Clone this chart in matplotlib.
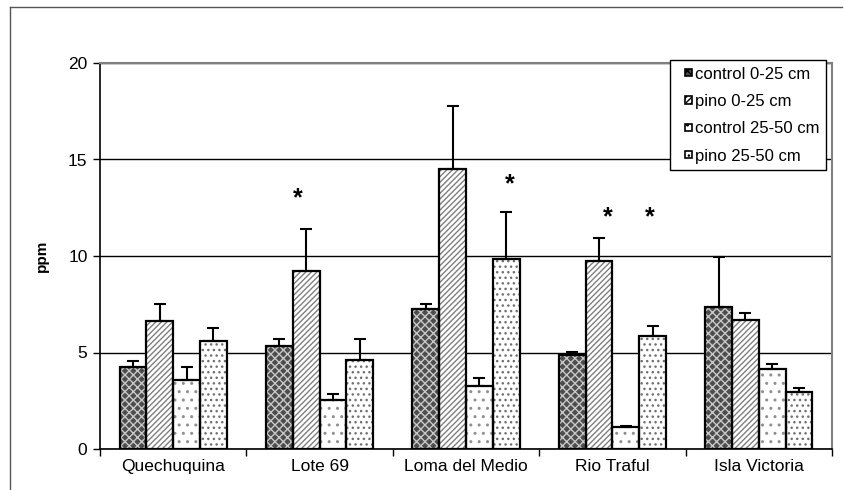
import numpy as np
import matplotlib
matplotlib.use("Agg")
import matplotlib.pyplot as plt
from matplotlib.patches import Patch, Rectangle
from matplotlib.lines import Line2D
from matplotlib.legend_handler import HandlerPatch

plt.rcParams['font.family'] = ['Liberation Sans', 'DejaVu Sans']

sites = ['Quechuquina', 'Lote 69', 'Loma del Medio', 'Rio Traful', 'Isla Victoria']
series = ['control 0-25 cm', 'pino 0-25 cm', 'control 25-50 cm', 'pino 25-50 cm']

# means (ppm)
control_0_25 = [4.23, 5.35, 7.25, 4.87, 7.37]
pino_0_25 = [6.62, 9.24, 14.5, 9.74, 6.68]
control_25_50 = [3.58, 2.54, 3.28, 1.14, 4.13]
pino_25_50 = [5.58, 4.63, 9.83, 5.85, 2.95]

# upper error (se)
err_control_0_25 = [0.33, 0.33, 0.28, 0.16, 2.56]
err_pino_0_25 = [0.89, 2.16, 3.27, 1.18, 0.35]
err_control_25_50 = [0.65, 0.31, 0.42, 0.03, 0.27]
err_pino_25_50 = [0.67, 1.05, 2.43, 0.52, 0.19]

# significance marks (x in category units, y in ppm)
star_x = [0.85, 2.296, 2.965, 3.252]
star_y = [13.0, 13.7, 12.0, 12.0]

means = [control_0_25, pino_0_25, control_25_50, pino_25_50]
errs = [err_control_0_25, err_pino_0_25, err_control_25_50, err_pino_25_50]
faces = ['#4d4d4d', 'white', 'white', 'white']
hatches = ['xxxx', '//////', '..', '...']
hatch_cols = ['#c8c8c8', '#808080', '#909090', '#707070']

fig = plt.figure(figsize=(8.44, 4.90), dpi=100)
ax = fig.add_axes([100 / 844, 41 / 490, 732 / 844, 386 / 490])

x = np.arange(len(sites))
w = 0.183
for i in range(4):
    xs = x + (i - 1.5) * w
    ax.bar(xs, means[i], w, color=faces[i], hatch=hatches[i],
           edgecolor=hatch_cols[i], linewidth=0, zorder=3)
    ax.bar(xs, means[i], w, fill=False, edgecolor='black', linewidth=1.6, zorder=4)
    ax.errorbar(xs, means[i], yerr=[np.zeros(len(sites)), errs[i]], fmt='none',
                ecolor='black', elinewidth=1.5, capsize=4, capthick=1.5, zorder=5)

for sx, sy in zip(star_x, star_y):
    ax.text(sx, sy, '*', ha='center', va='center', fontsize=18, fontweight='bold', zorder=6)

ax.set_xlim(-0.5, len(sites) - 0.5)
ax.set_ylim(0, 20)
ax.set_yticks([0, 5, 10, 15, 20])
ax.yaxis.grid(True, color='black', linewidth=1)
ax.set_axisbelow(True)
ax.set_xticks(x)
ax.set_xticklabels(sites, fontsize=12.5)
ax.tick_params(axis='x', length=0, pad=7)
ax.set_xticks(np.arange(-0.5, len(sites), 1), minor=True)
ax.tick_params(axis='x', which='minor', length=5, width=1, direction='out')
ax.tick_params(axis='y', length=5, width=1, direction='out', labelsize=12.5, pad=4)
ax.set_ylabel('ppm', fontsize=11, fontweight='bold', labelpad=14)
for s in ['top', 'right']:
    ax.spines[s].set_color('#808080')
    ax.spines[s].set_linewidth(1.5)
for s in ['left', 'bottom']:
    ax.spines[s].set_linewidth(1.2)


# small square legend keys sitting at the right of the handle area
def small_box(legend, orig_handle, xdescent, ydescent, width, height, fontsize):
    s = 0.45 * fontsize
    return Rectangle((-xdescent + width - s, -ydescent + (height - s) / 2), s, s)


handles = [Patch(facecolor=faces[i], hatch=hatches[i], edgecolor='black', linewidth=1.2)
           for i in range(4)]
leg = ax.legend(handles, series, loc='upper right', bbox_to_anchor=(0.992, 1.008),
                fontsize=12, frameon=True, fancybox=False, edgecolor='black',
                framealpha=1, borderaxespad=0, handlelength=0.95, handleheight=0.5,
                handletextpad=0.15, labelspacing=0.74, borderpad=0.4,
                handler_map={Patch: HandlerPatch(patch_func=small_box)})
leg.get_frame().set_linewidth(1)
leg.set_zorder(10)

# outer chart border
fig.add_artist(Line2D([10 / 844, 10 / 844], [0, 483 / 490], color='#555555', lw=1))
fig.add_artist(Line2D([10 / 844, 842 / 844], [483 / 490, 483 / 490], color='#555555', lw=1))

fig.savefig('out.png', dpi=100)
